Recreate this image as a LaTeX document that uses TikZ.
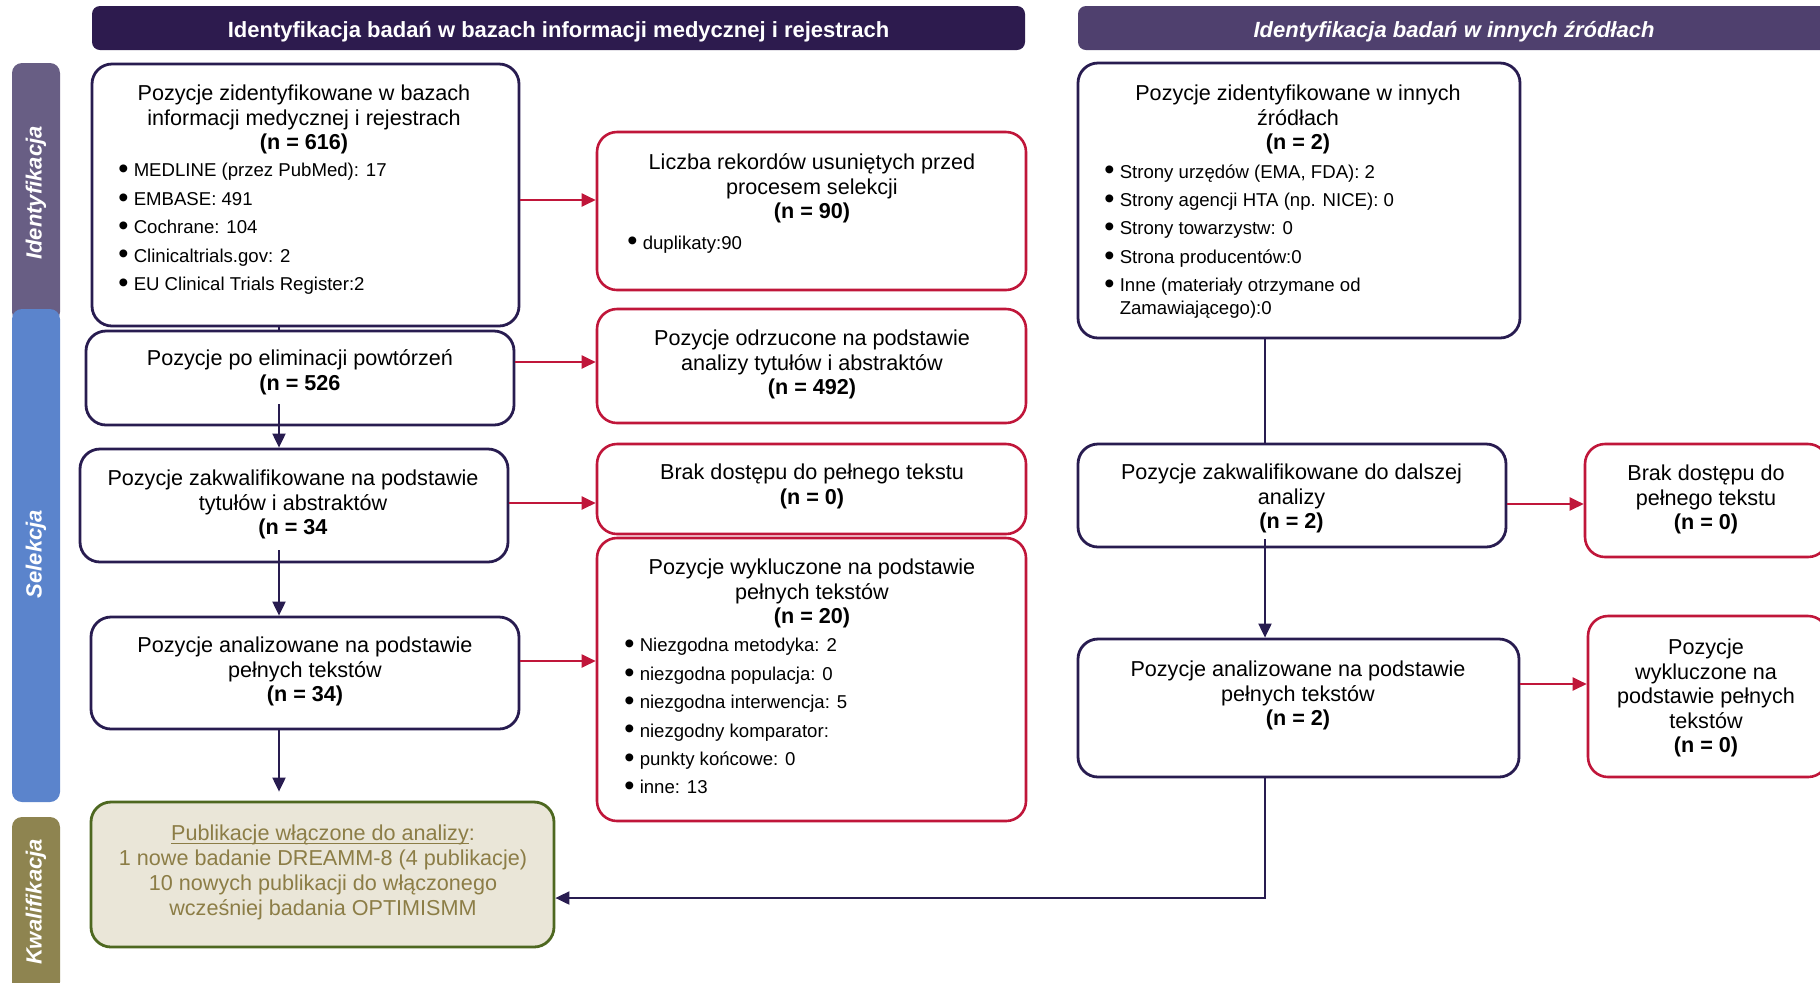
\documentclass[tikz,border=0pt]{standalone}
\usepackage{fontspec}
\setmainfont{Liberation Sans}
\usetikzlibrary{arrows.meta,fit,calc}
\definecolor{navy}{RGB}{40,28,80}
\definecolor{crim}{RGB}{192,22,58}
\definecolor{hdrl}{RGB}{45,27,78}
\definecolor{hdrr}{RGB}{79,64,110}
\definecolor{sidei}{RGB}{104,94,132}
\definecolor{sides}{RGB}{91,132,204}
\definecolor{sidek}{RGB}{142,132,80}
\definecolor{gfill}{RGB}{234,230,216}
\definecolor{gdraw}{RGB}{78,104,32}
\definecolor{gtext}{RGB}{140,125,70}
\newcommand{\bul}{\raisebox{-0.9pt}{\fontsize{14.5}{11.2}\selectfont\textbullet}\hspace{2.6pt}}
\newcommand{\myuline}[1]{\setbox0\hbox{#1}\rlap{\rule[-1.8pt]{\wd0}{0.6pt}}\box0}
\begin{document}
\begin{tikzpicture}[x=0.5pt,y=-0.5pt,
  nbox/.style={draw=navy, line width=1.4pt, rounded corners=10pt, fill=white, inner sep=0pt},
  rbox/.style={draw=crim, line width=1.3pt, rounded corners=10pt, fill=white, inner sep=0pt},
  gbox/.style={draw=gdraw, line width=1.4pt, rounded corners=10pt, fill=gfill, inner sep=0pt},
  hdrbox/.style={rounded corners=4pt, inner sep=0pt},
  hdrtxt/.style={inner sep=0pt, text=white, font=\fontsize{11}{13}\selectfont\bfseries},
  sidebar/.style={rounded corners=5pt, inner sep=0pt},
  sidetxt/.style={rotate=90, inner sep=0pt, text=white, font=\fontsize{11}{13}\selectfont\bfseries\itshape},
  txt/.style={inner sep=0pt, anchor=north, align=center, font=\fontsize{10.8}{12.25}\selectfont, execute at begin node=\strut},
  blt/.style={inner sep=0pt, anchor=north west, align=left, font=\fontsize{9.3}{11.2}\selectfont, execute at begin node=\strut},
  nline/.style={draw=navy, line width=1pt},
  narr/.style={draw=navy, line width=1pt, -{Triangle[length=7pt,width=6.5pt]}},
  rarr/.style={draw=crim, line width=1pt, -{Triangle[length=7pt,width=6.5pt]}}
]
\clip (0,0) rectangle (1820,982);
\fill[white] (0,0) rectangle (1820,982);

% headers
\node[hdrbox, fill=hdrl, fit={(92,6) (1025,50)}] (hL) {};
\node[hdrbox, fill=hdrr, fit={(1078,6) (1830,50)}] (hR) {};
\node[hdrtxt] (hLt) at ($(hL.center)+(0,-2pt)$) {Identyfikacja badań w bazach informacji medycznej i rejestrach};
\node[hdrtxt, font=\fontsize{11}{13}\selectfont\bfseries\itshape] (hRt) at ($(hR.center)+(0,-2pt)$) {Identyfikacja badań w innych źródłach};

% side bars
\node[sidebar, fill=sidei, fit={(12,63) (60,322)}] (sI) {};
\node[sidebar, fill=sides, fit={(12,309) (60,802)}] (sS) {};
\node[sidebar, fill=sidek, fit={(12,817) (60,992)}] (sK) {};
\node[sidetxt] (sIt) at (36,193) {Identyfikacja};
\node[sidetxt] (sSt) at (36,554) {Selekcja};
\node[sidetxt] (sKt) at (36,902) {Kwalifikacja};

% column coordinates
\coordinate (cL) at (279,0);
\coordinate (cR) at (1265,0);

% left column boxes
\node[nbox, fit={(92,64) (519,326)}] (A) {};
\node[nbox, fit={(86,331) (514,425)}] (B) {};
\node[nbox, fit={(80,449) (508,562)}] (C) {};
\node[nbox, fit={(91,617) (519,729)}] (D) {};
\node[gbox, fit={(91,802) (554,947)}] (E) {};

% red boxes
\node[rbox, fit={(597,132) (1026,290)}] (R1) {};
\node[rbox, fit={(597,309) (1026,423)}] (R2) {};
\node[rbox, fit={(597,444) (1026,534)}] (R3) {};
\node[rbox, fit={(597,538) (1026,821)}] (R4) {};

% right column
\node[nbox, fit={(1078,63) (1520,338)}] (F) {};
\node[nbox, fit={(1078,444) (1506,547)}] (G) {};
\node[nbox, fit={(1078,639) (1519,777)}] (H) {};
\node[rbox, fit={(1585,444) (1828,557)}] (R5) {};
\node[rbox, fit={(1588,616) (1828,777)}] (R6) {};

% texts
\node[txt] (At) at (304,84.6) {Pozycje zidentyfikowane w bazach\\informacji medycznej i rejestrach\\\textbf{(n = 616)}};
\node[blt] (Ab) at (118,163) {\bul MEDLINE (przez PubMed): 17\\[3pt]\bul EMBASE: 491\\[3pt]\bul Cochrane: 104\\[3pt]\bul Clinicaltrials.gov: 2\\[3pt]\bul EU Clinical Trials Register:2};
\node[txt] (Bt) at (300,349.6) {Pozycje po eliminacji powtórzeń\\\textbf{(n = 526}};
\node[txt] (Ct) at (293,469.6) {Pozycje zakwalifikowane na podstawie\\tytułów i abstraktów\\\textbf{(n = 34}};
\node[txt] (Dt) at (305,636.6) {Pozycje analizowane na podstawie\\pełnych tekstów\\\textbf{(n = 34)}};
\node[txt, text=gtext, font=\fontsize{10.8}{12.5}\selectfont] (Et) at (323,824.6) {\myuline{Publikacje włączone do analizy}:\\1 nowe badanie DREAMM-8 (4 publikacje)\\10 nowych publikacji do włączonego\\wcześniej badania OPTIMISMM};

\node[txt] (R1t) at (812,153.6) {Liczba rekordów usuniętych przed\\procesem selekcji\\\textbf{(n = 90)}};
\node[blt] (R1b) at (627,233) {\bul duplikaty:90};
\node[txt] (R2t) at (812,329.6) {Pozycje odrzucone na podstawie\\analizy tytułów i abstraktów\\\textbf{(n = 492)}};
\node[txt] (R3t) at (812,463.6) {Brak dostępu do pełnego tekstu\\\textbf{(n = 0)}};
\node[txt] (R4t) at (812,558.6) {Pozycje wykluczone na podstawie\\pełnych tekstów\\\textbf{(n = 20)}};
\node[blt] (R4b) at (624,638) {\bul Niezgodna metodyka: 2\\[3pt]\bul niezgodna populacja: 0\\[3pt]\bul niezgodna interwencja: 5\\[3pt]\bul niezgodny komparator:\\[3pt]\bul punkty końcowe: 0\\[3pt]\bul inne: 13};

\node[txt] (Ft) at (1298,84.6) {Pozycje zidentyfikowane w innych\\źródłach\\\textbf{(n = 2)}};
\node[blt] (Fb) at (1104,164) {\bul Strony urzędów (EMA, FDA): 2\\[3pt]\bul Strony agencji HTA (np. NICE): 0\\[3pt]\bul Strony towarzystw: 0\\[3pt]\bul Strona producentów:0\\[3pt]\bul Inne (materiały otrzymane od\\\phantom{\bul}Zamawiającego):0};
\node[txt] (Gt) at (1291.5,463.6) {Pozycje zakwalifikowane do dalszej\\analizy\\\textbf{(n = 2)}};
\node[txt] (Ht) at (1298,660.6) {Pozycje analizowane na podstawie\\pełnych tekstów\\\textbf{(n = 2)}};
\node[txt] (R5t) at (1706,464.6) {Brak dostępu do\\pełnego tekstu\\\textbf{(n = 0)}};
\node[txt] (R6t) at (1706,638.6) {Pozycje\\wykluczone na\\podstawie pełnych\\tekstów\\\textbf{(n = 0)}};

% navy connectors
\draw[nline] (A.south -| cL) -- (B.north -| cL);
\draw[narr] ($(B.south -| cL)+(0,11pt)$) -- (C.north -| cL);
\draw[narr] ($(C.south -| cL)+(0,6.5pt)$) -- (D.north -| cL);
\draw[narr] (D.south -| cL) -- ($(E.north -| cL)+(0,4.5pt)$);
\draw[nline] (F.south -| cR) -- (G.north -| cR);
\draw[narr] ($(G.south -| cR)+(0,4.5pt)$) -- (H.north -| cR);
\draw[narr] (H.south -| cR) |- ($(E.east)+(0,-11.75pt)$);

% red connectors
\draw[rarr] ($(A.east)+(0,-2.5pt)$) -- ($(A.east -| R1.west)+(0,-2.5pt)$);
\draw[rarr] ($(B.east)+(0,8pt)$) -- ($(B.east -| R2.west)+(0,8pt)$);
\draw[rarr] ($(C.east)+(0,1.25pt)$) -- ($(C.east -| R3.west)+(0,1.25pt)$);
\draw[rarr] ($(D.east)+(0,6pt)$) -- ($(D.east -| R4.west)+(0,6pt)$);
\draw[rarr] ($(G.east)+(0,-4.25pt)$) -- ($(G.east -| R5.west)+(0,-4.25pt)$);
\draw[rarr] ($(H.east)+(0,12pt)$) -- ($(H.east -| R6.west)+(0,12pt)$);
\end{tikzpicture}
\end{document}
